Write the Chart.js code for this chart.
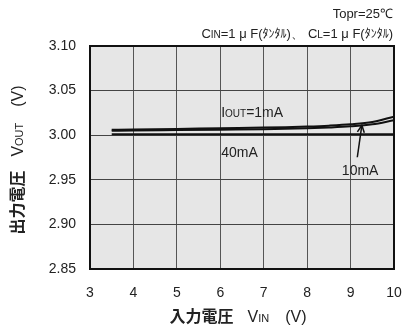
<!DOCTYPE html>
<html>
<head>
<meta charset="utf-8">
<script src="https://cdn.jsdelivr.net/npm/chart.js@4.4.1/dist/chart.umd.min.js"></script>
<style>
  html, body { margin: 0; padding: 0; background: #fff; }
  #wrap { width: 403px; height: 326px; position: relative; }
</style>
</head>
<body>
<div id="wrap"><canvas id="c" width="403" height="326"></canvas></div>
<script>
// Input voltage (V) sample points
const vin = [3.5, 4, 5, 6, 7, 7.5, 8, 8.5, 9, 9.5, 10];
// Output voltage (V) for each load current
const vout1mA  = [3.0060, 3.0063, 3.0070, 3.0078, 3.0085, 3.0090, 3.0097, 3.0107, 3.0122, 3.0148, 3.0208];
const vout10mA = [3.0050, 3.0052, 3.0057, 3.0062, 3.0067, 3.0071, 3.0077, 3.0086, 3.0099, 3.0122, 3.0168];
const vout40mA = [3.0012, 3.0012, 3.0011, 3.0011, 3.0011, 3.0011, 3.0010, 3.0010, 3.0010, 3.0010, 3.0010];
// Axis ticks
const xTicks = [3, 4, 5, 6, 7, 8, 9, 10];
const yTicks = [2.85, 2.90, 2.95, 3.00, 3.05, 3.10];

const FONT = '"Liberation Sans", Arial, sans-serif';
const JFONT = '"Noto Sans CJK JP", "Liberation Sans", sans-serif';
const INK = '#222';

function pts(ys) { return vin.map((x, i) => ({ x, y: ys[i] })); }

// draw a run of differently-sized text pieces on one baseline
function drawRuns(ctx, runs, x, y, align) {
  let total = 0;
  runs.forEach(r => { ctx.font = r.f; total += ctx.measureText(r.t).width + (r.gap || 0); });
  let cx = align === 'right' ? x - total : align === 'center' ? x - total / 2 : x;
  ctx.textAlign = 'left';
  ctx.textBaseline = 'alphabetic';
  runs.forEach(r => {
    ctx.font = r.f;
    ctx.fillText(r.t, cx, y);
    cx += ctx.measureText(r.t).width + (r.gap || 0);
  });
}

const decor = {
  id: 'decor',
  beforeDraw(chart) {
    const { ctx, chartArea: a } = chart;
    ctx.save();
    ctx.fillStyle = '#e6e6e6';
    ctx.fillRect(a.left, a.top, a.right - a.left, a.bottom - a.top);
    ctx.restore();
  },
  afterDraw(chart) {
    const { ctx, chartArea: a, scales: { x, y } } = chart;
    ctx.save();
    // frame
    ctx.strokeStyle = '#111';
    ctx.lineWidth = 2;
    ctx.strokeRect(a.left, a.top, a.right - a.left, a.bottom - a.top);

    ctx.fillStyle = INK;
    // condition notes
    drawRuns(ctx, [{ t: 'Topr=25℃', f: '13px ' + FONT }], 393, 18, 'right');
    drawRuns(ctx, [
      { t: 'C', f: '13px ' + FONT },
      { t: 'IN', f: '10px ' + FONT },
      { t: '=1 μ F(', f: '13px ' + FONT },
      { t: 'ﾀﾝﾀﾙ', f: '12px ' + JFONT },
      { t: ')、', f: '13px ' + FONT, gap: 4 },
      { t: 'C', f: '13px ' + FONT },
      { t: 'L', f: '10px ' + FONT },
      { t: '=1 μ F(', f: '13px ' + FONT },
      { t: 'ﾀﾝﾀﾙ', f: '12px ' + JFONT },
      { t: ')', f: '13px ' + FONT }
    ], 393, 38, 'right');

    // curve labels
    drawRuns(ctx, [
      { t: 'I', f: '14px ' + FONT },
      { t: 'OUT', f: '10px ' + FONT },
      { t: '=1mA', f: '14px ' + FONT }
    ], x.getPixelForValue(6.02), y.getPixelForValue(3.0205), 'left');
    drawRuns(ctx, [{ t: '40mA', f: '14px ' + FONT }],
      x.getPixelForValue(6.02), y.getPixelForValue(2.976), 'left');
    drawRuns(ctx, [{ t: '10mA', f: '14px ' + FONT }],
      x.getPixelForValue(9.22), y.getPixelForValue(2.955), 'center');

    // arrow pointing to the 10mA curve
    const tx = x.getPixelForValue(9.155), ty = y.getPixelForValue(2.9753);
    const hx = x.getPixelForValue(9.26), hy = y.getPixelForValue(3.0112);
    ctx.strokeStyle = '#111';
    ctx.lineWidth = 1.5;
    ctx.beginPath();
    ctx.moveTo(tx, ty); ctx.lineTo(hx, hy);
    ctx.stroke();
    const ang = Math.atan2(hy - ty, hx - tx);
    ctx.beginPath();
    ctx.moveTo(hx + 8 * Math.cos(ang + Math.PI - 0.45), hy + 8 * Math.sin(ang + Math.PI - 0.45));
    ctx.lineTo(hx, hy);
    ctx.lineTo(hx + 8 * Math.cos(ang + Math.PI + 0.45), hy + 8 * Math.sin(ang + Math.PI + 0.45));
    ctx.stroke();

    // axis titles
    ctx.fillStyle = INK;
    drawRuns(ctx, [
      { t: '入力電圧', f: 'bold 16px ' + JFONT, gap: 14 },
      { t: 'V', f: '16px ' + FONT },
      { t: 'IN', f: '11px ' + FONT, gap: 16 },
      { t: '(V)', f: '16px ' + FONT }
    ], 238, 322, 'center');

    ctx.translate(23, 160);
    ctx.rotate(-Math.PI / 2);
    drawRuns(ctx, [
      { t: '出力電圧', f: 'bold 16px ' + JFONT, gap: 14 },
      { t: 'V', f: '16px ' + FONT },
      { t: 'OUT', f: '11px ' + FONT, gap: 16 },
      { t: '(V)', f: '16px ' + FONT }
    ], 0, 0, 'center');
    ctx.restore();
  }
};

new Chart(document.getElementById('c'), {
  type: 'line',
  data: {
    datasets: [
      { label: '1mA', data: pts(vout1mA), borderColor: '#111', borderWidth: 2, pointRadius: 0, cubicInterpolationMode: 'monotone' },
      { label: '10mA', data: pts(vout10mA), borderColor: '#111', borderWidth: 2, pointRadius: 0, cubicInterpolationMode: 'monotone' },
      { label: '40mA', data: pts(vout40mA), borderColor: '#111', borderWidth: 2, pointRadius: 0, cubicInterpolationMode: 'monotone' }
    ]
  },
  options: {
    responsive: false,
    animation: false,
    layout: { padding: { left: 0, top: 46, right: 9, bottom: 0 } },
    plugins: { legend: { display: false }, tooltip: { enabled: false } },
    scales: {
      x: {
        type: 'linear', min: 3, max: 10,
        afterBuildTicks(s) { s.ticks = xTicks.map(v => ({ value: v })); },
        afterFit(s) { s.height = 57; s.paddingLeft = 0; s.paddingRight = 0; },
        grid: { color: '#555', lineWidth: 1, drawTicks: false },
        border: { display: false },
        ticks: { font: { family: FONT, size: 14 }, color: INK, padding: 16, maxRotation: 0 }
      },
      y: {
        min: 2.85, max: 3.10,
        afterBuildTicks(s) { s.ticks = yTicks.map(v => ({ value: v })); },
        afterFit(s) { s.width = 90; s.paddingTop = 0; s.paddingBottom = 0; },
        grid: { color: '#444', lineWidth: 1, drawTicks: false },
        border: { display: false },
        ticks: { font: { family: FONT, size: 14 }, color: INK, padding: 14, callback: v => v.toFixed(2) }
      }
    }
  },
  plugins: [decor]
});
</script>
</body>
</html>
